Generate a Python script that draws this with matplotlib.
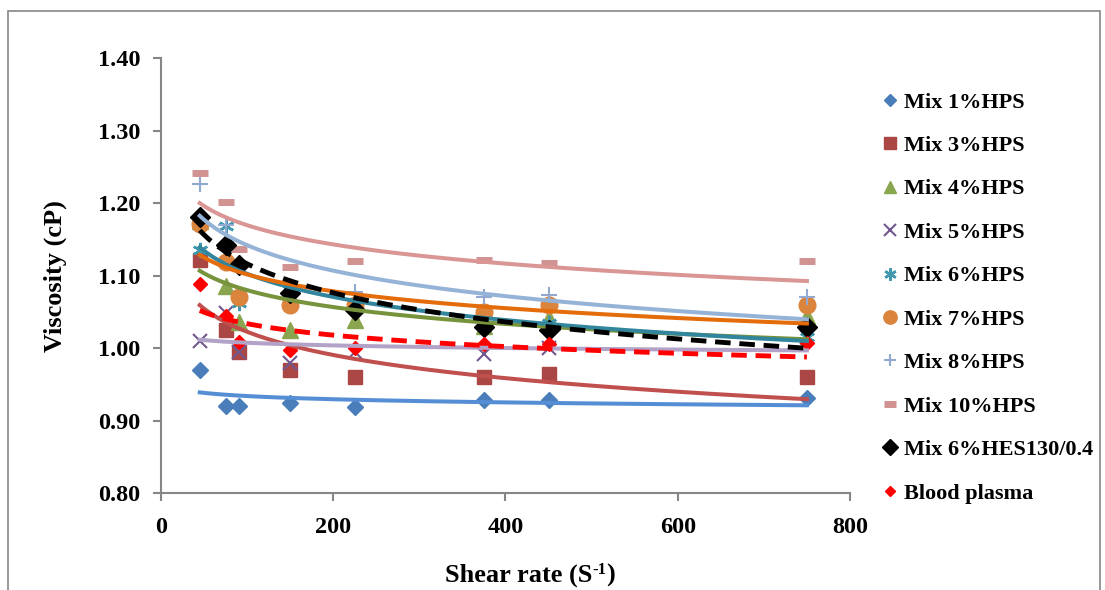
import numpy as np
import matplotlib
matplotlib.use('Agg')
import matplotlib.pyplot as plt
from matplotlib.patches import Rectangle

plt.rcParams['font.family'] = ['Liberation Serif', 'DejaVu Serif']
plt.rcParams['font.weight'] = 'bold'

# Shear rates (1/s)
shear = [45, 75, 90, 150, 225, 375, 450, 750]

# Viscosity (cP) per sample
mix1 = [0.970, 0.920, 0.920, 0.924, 0.919, 0.928, 0.929, 0.931]
mix3 = [1.121, 1.025, 0.995, 0.970, 0.960, 0.960, 0.965, 0.960]
mix4 = [1.175, 1.085, 1.036, 1.025, 1.039, 1.030, 1.041, 1.045]
mix5 = [1.010, 1.048, 0.995, 0.979, 0.995, 0.992, 1.000, 1.015]
mix6 = [1.135, 1.168, 1.062, 1.080, 1.060, 1.040, 1.035, 1.016]
mix7 = [1.171, 1.119, 1.071, 1.059, 1.060, 1.050, 1.060, 1.060]
mix8 = [1.226, 1.170, 1.115, 1.085, 1.078, 1.071, 1.073, 1.071]
mix10 = [1.241, 1.201, 1.137, 1.112, 1.120, 1.122, 1.117, 1.120]
hes = [1.181, 1.142, 1.115, 1.076, 1.052, 1.029, 1.025, 1.029]
plasma = [1.089, 1.045, 1.009, 0.997, 1.000, 1.006, 1.006, 1.007]

labels = ['Mix 1%HPS', 'Mix 3%HPS', 'Mix 4%HPS', 'Mix 5%HPS', 'Mix 6%HPS',
          'Mix 7%HPS', 'Mix 8%HPS', 'Mix 10%HPS', 'Mix 6%HES130/0.4', 'Blood plasma']

series = [mix1, mix3, mix4, mix5, mix6, mix7, mix8, mix10, hes, plasma]

# marker, marker colour, marker size, edge width, trendline colour, trendline style
styles = [
    ('D', '#4A7EBB', 8, 1.0, '#558ED5', '-'),
    ('s', '#AA4643', 10, 1.0, '#C0504D', '-'),
    ('^', '#89A54E', 11, 1.0, '#77933C', '-'),
    ('x', '#71588F', 10, 1.5, '#B3A2C7', '-'),
    ((6, 2, 0), '#4198AF', 11, 1.8, '#31859C', '-'),
    ('o', '#DB843D', 12, 1.0, '#E46C0A', '-'),
    ('+', '#93A9CF', 11, 1.5, '#95B3D7', '-'),
    ('_', '#D19392', 11, 5.0, '#D99694', '-'),
    ('D', '#000000', 10, 1.0, '#000000', '--'),
    ('D', '#FF0000', 7, 1.0, '#FF0000', '--'),
]

fig = plt.figure(figsize=(11.05, 5.9), dpi=100)
ax = fig.add_axes([0.1457, 0.164, 0.6235, 0.7377])

x = np.array(shear, dtype=float)
xf = np.linspace(45, 750, 200)
handles = []
for vals, lab, (m, c, ms, mew, lc, ls) in zip(series, labels, styles):
    h, = ax.plot(x, vals, linestyle='none', marker=m, color=c, markersize=ms,
                 markeredgewidth=mew, label=lab, zorder=3)
    handles.append(h)
    # logarithmic trendline
    b, a = np.polyfit(np.log(x), vals, 1)
    if ls == '--':
        ax.plot(xf, a + b * np.log(xf), color=lc, linewidth=3.5,
                dashes=(3.2, 1.8), zorder=4)
    else:
        ax.plot(xf, a + b * np.log(xf), color=lc, linewidth=2.9, zorder=4)

ax.set_xlim(0, 800)
ax.set_ylim(0.80, 1.40)
ax.set_xticks([0, 200, 400, 600, 800])
ax.set_yticks(np.arange(0.80, 1.401, 0.10))
ax.yaxis.set_major_formatter(matplotlib.ticker.FormatStrFormatter('%.2f'))
for s in ['top', 'right']:
    ax.spines[s].set_visible(False)
for s in ['left', 'bottom']:
    ax.spines[s].set_color('#868686')
    ax.spines[s].set_linewidth(1.5)
ax.tick_params(axis='y', direction='out', length=6, width=1.5, color='#868686',
               labelsize=17.5, pad=9)
ax.tick_params(axis='x', direction='out', length=6, width=1.5, color='#868686',
               labelsize=17.5, pad=11)
for t in ax.get_xticklabels() + ax.get_yticklabels():
    t.set_fontweight('bold')

ax.set_ylabel('Viscosity (cP)', fontsize=19, fontweight='bold', labelpad=22)

# x axis title with superscript unit
fig.canvas.draw()
r = fig.canvas.get_renderer()
y0 = 1 - 582 / 590
main = fig.text(0, y0, 'Shear rate (S', fontsize=19, fontweight='bold', va='baseline')
sup = fig.text(0, y0, '-1', fontsize=12, fontweight='bold', va='baseline')
close = fig.text(0, y0, ')', fontsize=19, fontweight='bold', va='baseline')
w1 = main.get_window_extent(r).width
w2 = sup.get_window_extent(r).width
w3 = close.get_window_extent(r).width
left = 530 - (w1 + w2 + w3) / 2
main.set_x(left / 1105)
sup.set_x((left + w1) / 1105)
sup.set_y(y0 + 8 / 590)
close.set_x((left + w1 + w2) / 1105)

fig.legend(handles=handles, loc='upper left', bbox_to_anchor=(0.779, 0.878),
           frameon=False, prop={'family': 'Liberation Serif', 'weight': 'bold', 'size': 16},
           labelspacing=1.03, handlelength=0.8, handletextpad=0.25, markerscale=0.8)

# outer chart border
fig.patches.append(Rectangle((8 / 1105, -0.05), 1092 / 1105, 1.05 - 11 / 590,
                             transform=fig.transFigure, fill=False,
                             edgecolor='#868686', linewidth=1.2))

fig.savefig('out.png', dpi=100)
